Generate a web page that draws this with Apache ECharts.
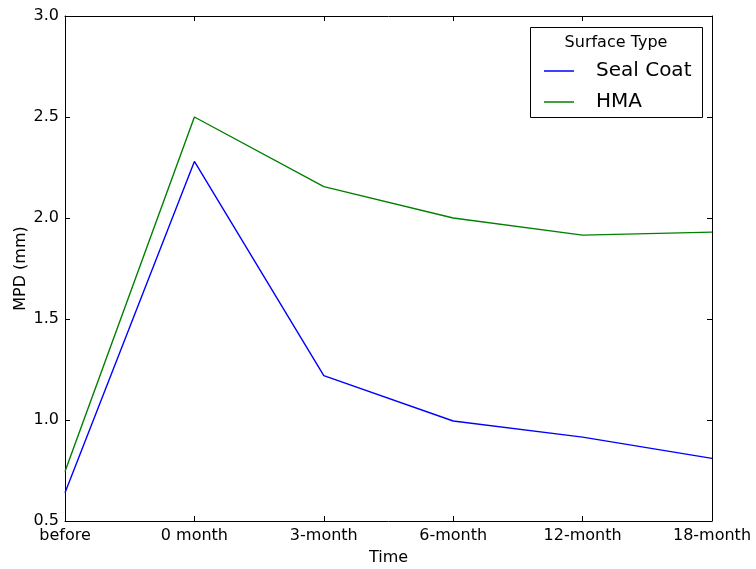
<!DOCTYPE html>
<html>
<head>
<meta charset="utf-8">
<script src="https://cdn.jsdelivr.net/npm/echarts@6/dist/echarts.min.js"></script>
<style>
  html, body { margin: 0; padding: 0; background: #fff; }
  #chart { width: 756px; height: 569px; }
</style>
</head>
<body>
<div id="chart"></div>
<script>
// Mean profile depth by survey time, per surface type
const timeLabels = ['before', '0 month', '3-month', '6-month', '12-month', '18-month'];
const sealCoat = [0.64, 2.28, 1.22, 0.995, 0.915, 0.81];
const hma = [0.745, 2.50, 2.155, 2.00, 1.915, 1.93];
const yTicks = { min: 0.5, max: 3.0, interval: 0.5 };

const FONT = 'DejaVu Sans';
const chart = echarts.init(document.getElementById('chart'));

const frameAxis = {
  axisLine: { show: true, lineStyle: { color: '#000', width: 1 } },
  axisTick: { show: true, inside: true, length: 5, lineStyle: { color: '#000' } },
  splitLine: { show: false }
};

chart.setOption({
  animation: false,
  textStyle: { fontFamily: FONT },
  grid: { left: 65, right: 44, top: 16, bottom: 48, outerBoundsMode: 'none', containLabel: false },
  legend: {
    data: ['Seal Coat', 'HMA'],
    orient: 'vertical',
    left: 544,
    top: 61,
    padding: 0,
    icon: 'rect',
    itemWidth: 30,
    itemHeight: 1.5,
    itemGap: 11,
    textStyle: { fontFamily: FONT, fontSize: 20, color: '#000', padding: [0, 0, 0, 17] }
  },
  xAxis: [
    Object.assign({
      type: 'category',
      data: timeLabels,
      boundaryGap: false,
      name: 'Time',
      nameLocation: 'middle',
      nameGap: 29,
      nameMoveOverlap: false,
      nameTextStyle: { fontFamily: FONT, fontSize: 16, color: '#000' },
      axisLabel: { fontFamily: FONT, fontSize: 16, color: '#000', margin: 7 }
    }, frameAxis),
    Object.assign({
      type: 'category',
      data: timeLabels,
      boundaryGap: false,
      position: 'top',
      axisLabel: { show: false }
    }, frameAxis)
  ],
  yAxis: [
    Object.assign({
      type: 'value',
      min: yTicks.min,
      max: yTicks.max,
      interval: yTicks.interval,
      name: 'MPD (mm)',
      nameLocation: 'middle',
      nameGap: 36,
      nameMoveOverlap: false,
      nameTextStyle: { fontFamily: FONT, fontSize: 16, color: '#000' },
      axisLabel: { fontFamily: FONT, fontSize: 16, color: '#000', margin: 6,
                   formatter: v => v.toFixed(1) }
    }, frameAxis),
    Object.assign({
      type: 'value',
      min: yTicks.min,
      max: yTicks.max,
      interval: yTicks.interval,
      position: 'right',
      axisLabel: { show: false }
    }, frameAxis)
  ],
  series: [
    {
      name: 'Seal Coat',
      type: 'line',
      data: sealCoat,
      symbol: 'none',
      color: '#0000ff',
      lineStyle: { width: 1.4, color: '#0000ff' }
    },
    {
      name: 'HMA',
      type: 'line',
      data: hma,
      symbol: 'none',
      color: '#008000',
      lineStyle: { width: 1.4, color: '#008000' }
    }
  ],
  graphic: [
    {
      type: 'rect',
      shape: { x: 530.5, y: 27.5, width: 172, height: 90 },
      style: { fill: 'none', stroke: '#000', lineWidth: 1 },
      z: 100
    },
    {
      type: 'text',
      x: 616,
      y: 43,
      style: { text: 'Surface Type', fontFamily: FONT, fontSize: 16, fill: '#000',
               align: 'center', verticalAlign: 'middle' },
      z: 100
    }
  ]
});
</script>
</body>
</html>
